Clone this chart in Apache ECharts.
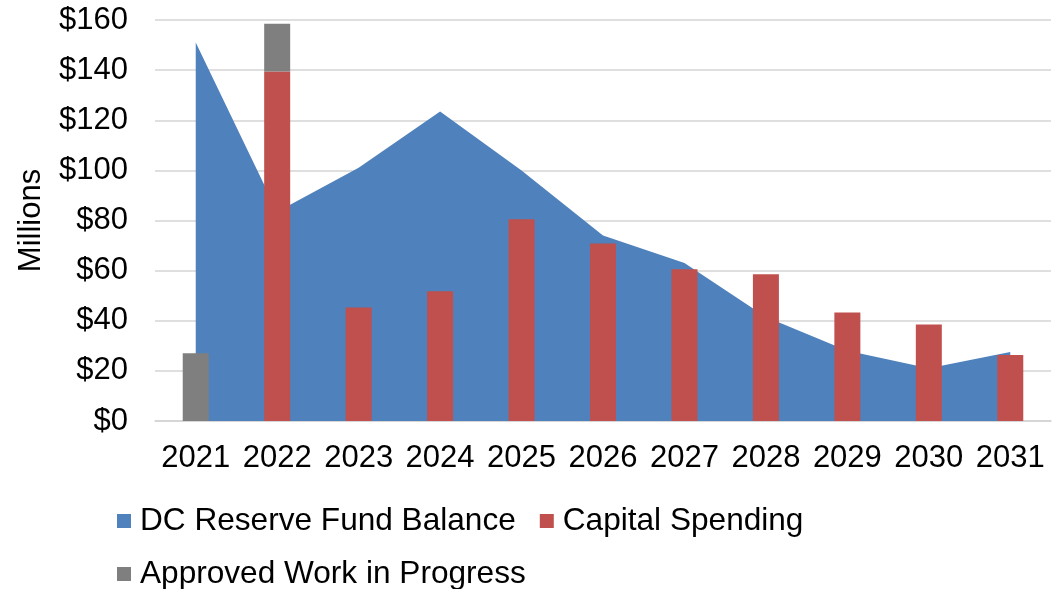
<!DOCTYPE html>
<html>
<head>
<meta charset="utf-8">
<title>DC Reserve Fund</title>
<script src="https://cdn.jsdelivr.net/npm/echarts@6/dist/echarts.min.js"></script>
<style>
  html, body { margin: 0; padding: 0; background: #ffffff; }
  #chart { width: 1060px; height: 589px; }
</style>
</head>
<body>
<div id="chart"></div>
<script>
// Forecast years
const years = ['2021', '2022', '2023', '2024', '2025', '2026', '2027', '2028', '2029', '2030', '2031'];

// DC reserve fund balance ($ millions)
const reserveBalance = [151, 83.5, 101, 123.5, 100, 74, 63, 41.5, 28, 21, 27.5];

// Capital spending ($ millions)
const capitalSpending = [0, 139.5, 45.3, 51.8, 80.5, 70.8, 60.5, 58.6, 43.3, 38.5, 26.3];

// Approved work in progress ($ millions), stacked on capital spending
const approvedWip = [27, 19, null, null, null, null, null, null, null, null, null];

// Value axis ticks
const yMin = 0, yMax = 160, yStep = 20;

const FONT = 'Liberation Sans, Arial, sans-serif';
const BLUE = '#4F81BD', RED = '#C0504D', GRAY = '#7F7F7F';
const GRID_COLOR = '#d4d4d4';

const chart = echarts.init(document.getElementById('chart'), null, { renderer: 'canvas' });

const legendText = { fontFamily: FONT, fontSize: 31.6, color: '#000', lineHeight: 36, padding: [0, 0, 0, 4] };

chart.setOption({
  animation: false,
  backgroundColor: '#ffffff',
  grid: { left: 155, right: 9, top: 20, bottom: 168, containLabel: false },
  legend: [
    {
      data: ['DC Reserve Fund Balance', 'Capital Spending'],
      left: 112, top: 498,
      icon: 'rect', itemWidth: 14, itemHeight: 14, itemGap: 24,
      textStyle: legendText, selectedMode: false
    },
    {
      data: ['Approved Work in Progress'],
      left: 112, top: 551,
      icon: 'rect', itemWidth: 14, itemHeight: 14,
      textStyle: legendText, selectedMode: false
    }
  ],
  xAxis: {
    type: 'category',
    data: years,
    boundaryGap: true,
    axisTick: { show: false },
    axisLine: { show: true, lineStyle: { color: GRID_COLOR, width: 1.5 } },
    axisLabel: { fontFamily: FONT, fontSize: 31, color: '#000', margin: 22, interval: 0 }
  },
  yAxis: {
    type: 'value',
    min: yMin, max: yMax, interval: yStep,
    name: 'Millions',
    nameLocation: 'middle',
    nameGap: 108,
    nameRotate: 90,
    nameTextStyle: { fontFamily: FONT, fontSize: 31, color: '#000' },
    axisLine: { show: false },
    axisTick: { show: false },
    splitLine: { show: true, lineStyle: { color: GRID_COLOR, width: 1.5 } },
    axisLabel: {
      fontFamily: FONT, fontSize: 31, color: '#000', margin: 27,
      formatter: v => '$' + v
    }
  },
  series: [
    {
      name: 'DC Reserve Fund Balance',
      type: 'line',
      data: reserveBalance,
      showSymbol: false,
      symbol: 'none',
      lineStyle: { width: 0, color: BLUE },
      itemStyle: { color: BLUE },
      areaStyle: { color: BLUE, opacity: 1 },
      z: 1
    },
    {
      name: 'Capital Spending',
      type: 'bar',
      stack: 'spend',
      data: capitalSpending,
      barWidth: 26,
      itemStyle: { color: RED },
      z: 2
    },
    {
      name: 'Approved Work in Progress',
      type: 'bar',
      stack: 'spend',
      data: approvedWip,
      barWidth: 26,
      itemStyle: { color: GRAY },
      z: 2
    }
  ]
});
</script>
</body>
</html>
